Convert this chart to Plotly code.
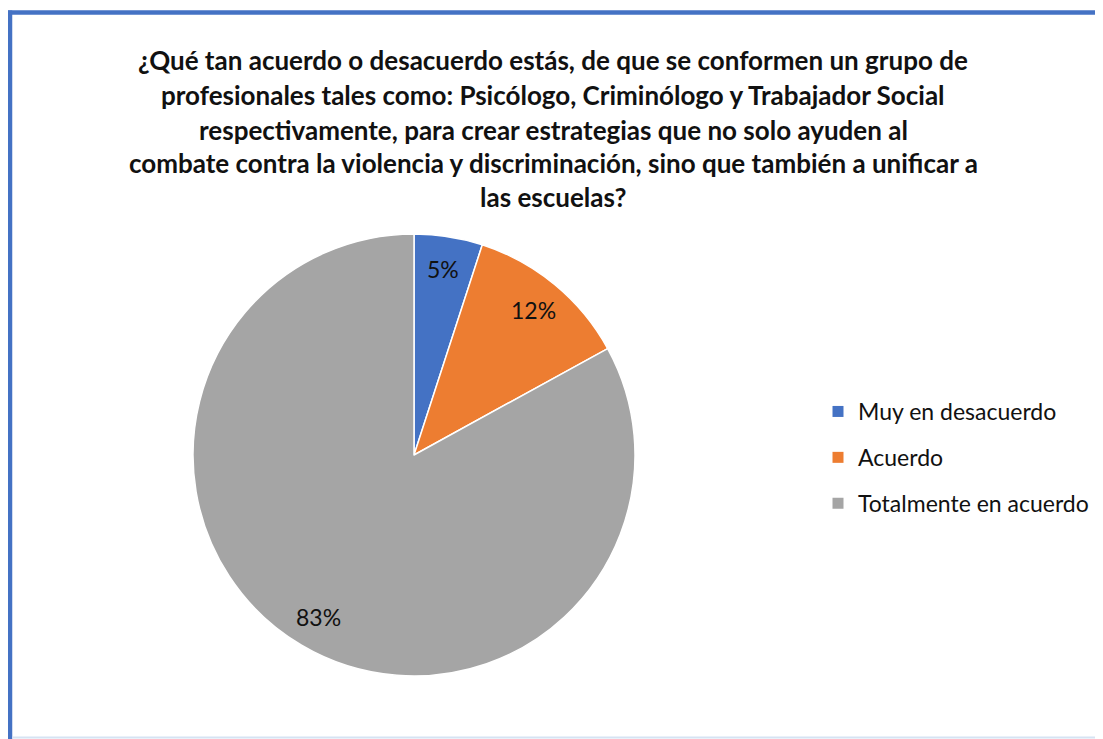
import math
import plotly.graph_objects as go

categories = ["Muy en desacuerdo", "Acuerdo", "Totalmente en acuerdo"]
values = [5, 12, 83]
colors = ["#4472C4", "#ED7D31", "#A5A5A5"]
title_lines = [
    "¿Qué tan acuerdo o desacuerdo estás, de que se conformen un grupo de",
    "profesionales tales como: Psicólogo, Criminólogo y Trabajador Social",
    "respectivamente, para crear estrategias que no solo ayuden al",
    "combate contra la violencia y discriminación, sino que también a unificar a",
    "las escuelas?",
]

W, H = 1103, 739
OFF = 8  # page body margin
cx, cy, r = 414 - OFF, 455 - OFF, 221


def px(x):
    return (x - OFF) / W


def py(y):
    return 1 - (y - OFF) / H


fig = go.Figure()
fig.add_trace(go.Pie(
    labels=categories, values=values, sort=False, direction="clockwise", rotation=0,
    marker=dict(colors=colors, line=dict(color="white", width=1.5)),
    textinfo="none", showlegend=False, hoverinfo="label+percent",
    domain=dict(x=[(cx - r) / W, (cx + r) / W], y=[(H - cy - r) / H, (H - cy + r) / H]),
))
for c, col in zip(categories, colors):
    fig.add_trace(go.Scatter(x=[None], y=[None], mode="markers", name=c,
                             marker=dict(symbol="square", size=11, color=col),
                             legendgroup=c, showlegend=True))

# percentage labels placed at mid-angle of each slice
total = sum(values)
cum = 0
for v in values:
    mid = (cum + v / 2) / total * 2 * math.pi
    cum += v
    lx = cx + 0.85 * r * math.sin(mid)
    ly = cy - 0.85 * r * math.cos(mid)
    fig.add_annotation(text=f"{round(v / total * 100)}%", x=lx / W, y=1 - ly / H,
                       xref="paper", yref="paper", showarrow=False,
                       xanchor="center", yanchor="middle",
                       font=dict(family="Lato", size=23, color="#111111"))

title_y = [60, 95, 130, 163, 197]
for t, yy in zip(title_lines, title_y):
    fig.add_annotation(text="<b>" + t + "</b>", x=px(553), y=py(yy), xref="paper", yref="paper",
                       xanchor="center", yanchor="middle", showarrow=False,
                       font=dict(family="Lato", size=26, color="#111111"))

fig.update_layout(
    width=W, height=H, margin=dict(l=0, r=0, t=0, b=0),
    paper_bgcolor="white", plot_bgcolor="white",
    xaxis=dict(visible=False), yaxis=dict(visible=False),
    legend=dict(x=810 / W, y=1 - 382 / H, xanchor="left", yanchor="top",
                font=dict(family="Lato", size=23, color="#111111"),
                tracegroupgap=13, itemclick=False, itemdoubleclick=False),
    shapes=[
        dict(type="line", xref="paper", yref="paper", x0=px(10), x1=px(10), y0=-0.01, y1=py(10.5),
             line=dict(color="#4472C4", width=4.5)),
        dict(type="line", xref="paper", yref="paper", x0=px(8), x1=1.01, y0=py(12.5), y1=py(12.5),
             line=dict(color="#4472C4", width=4.5)),
        dict(type="line", xref="paper", yref="paper", x0=px(12.5), x1=1.01, y0=py(737.5), y1=py(737.5),
             line=dict(color="#D6E3F3", width=2)),
    ],
)
fig.write_html("out.html")
